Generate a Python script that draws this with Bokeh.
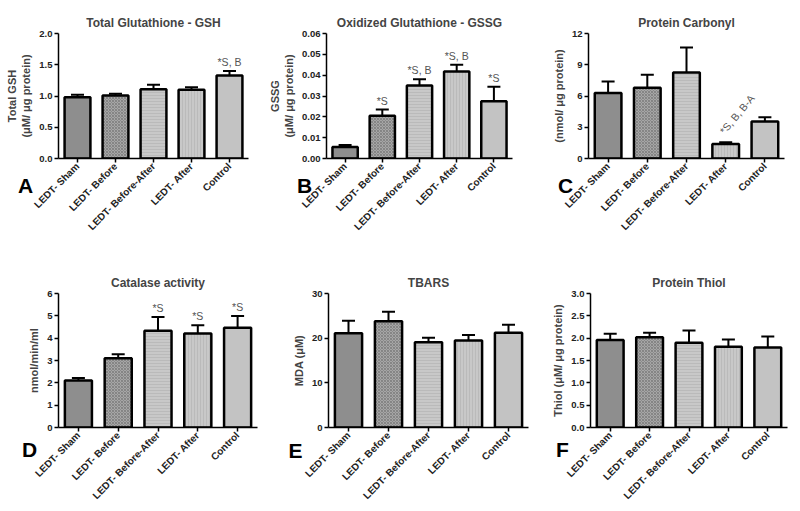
import math
from bokeh.plotting import figure
from bokeh.layouts import column, row
from bokeh.models import (ColumnDataSource, Range1d, FactorRange, Whisker, TeeHead,
                          Label, FixedTicker, NumeralTickFormatter)
from bokeh.core.properties import value
from bokeh.embed import file_html
from bokeh.resources import INLINE

FONT = "Liberation Sans"

categories = ["LEDT- Sham", "LEDT- Before", "LEDT- Before-After", "LEDT- After", "Control"]

gsh_mean = [0.98, 1.01, 1.11, 1.10, 1.33]
gsh_err = [0.04, 0.025, 0.07, 0.04, 0.07]
gsh_sig = ["", "", "", "", "*S, B"]

gssg_mean = [0.0055, 0.0205, 0.0350, 0.0418, 0.0275]
gssg_err = [0.0010, 0.0030, 0.0030, 0.0032, 0.0070]
gssg_sig = ["", "*S", "*S, B", "*S, B", "*S"]

carb_mean = [6.30, 6.80, 8.25, 1.40, 3.55]
carb_err = [1.10, 1.25, 2.40, 0.15, 0.42]
carb_sig = ["", "", "", "*S, B, B-A", ""]

cat_mean = [2.10, 3.10, 4.33, 4.21, 4.47]
cat_err = [0.12, 0.18, 0.62, 0.37, 0.52]
cat_sig = ["", "", "*S", "*S", "*S"]

tbars_mean = [21.1, 23.8, 19.1, 19.5, 21.2]
tbars_err = [2.8, 2.1, 1.0, 1.2, 1.8]
tbars_sig = ["", "", "", "", ""]

thiol_mean = [1.96, 2.02, 1.90, 1.81, 1.79]
thiol_err = [0.14, 0.10, 0.27, 0.16, 0.25]
thiol_sig = ["", "", "", "", ""]

fills = ["#8e8e8e", "#a6a6a6", "#c8c8c8", "#c8c8c8", "#c3c3c3"]
hatches = [" ", "diagonal_cross", "horizontal_line", "vertical_line", " "]
hatch_colors = ["#8e8e8e", "#7c7c7c", "#b6b6b6", "#b6b6b6", "#c3c3c3"]


def panel(title, ylabel, means, errs, sig, yend, ticks, fmt, width, height,
          bl, br, bt, bb, letter, lx, ly, sig_angle=0.0):
    src = ColumnDataSource(dict(
        cat=categories, top=means,
        up=[m + e for m, e in zip(means, errs)],
        sig=sig, fill=fills, hatch=hatches, hcol=hatch_colors))
    p = figure(x_range=FactorRange(*categories), y_range=Range1d(0, yend),
               width=width, height=height, output_backend="svg",
               toolbar_location=None, min_border_left=bl, min_border_right=br,
               min_border_top=bt, min_border_bottom=bb, title=title)
    p.outline_line_color = None
    p.xgrid.visible = False
    p.ygrid.visible = False
    p.title.text_font = FONT
    p.title.text_font_size = "12px"
    p.title.text_font_style = "bold"
    p.title.align = "center"
    p.title.offset = -13
    p.title.standoff = 8

    p.vbar(x="cat", top="top", width=0.68, source=src, fill_color="fill",
           line_color="black", line_width=2.5, hatch_pattern="hatch",
           hatch_color="hcol", hatch_scale=3, hatch_weight=0.8)
    w = Whisker(source=src, base="cat", lower="top", upper="up",
                line_width=2, line_color="black",
                upper_head=TeeHead(size=13, line_width=2, line_color="black"),
                lower_head=None)
    p.add_layout(w)
    if sig_angle:
        p.text(x="cat", y="up", text="sig", source=src, angle=sig_angle,
               text_align="left", text_baseline="middle", x_offset=-4, y_offset=-10,
               text_font=value(FONT), text_font_size="10.5px", text_color="#555555")
    else:
        p.text(x="cat", y="up", text="sig", source=src, text_align="center",
               text_baseline="bottom", y_offset=-3,
               text_font=value(FONT), text_font_size="10.5px", text_color="#555555")

    for ax in (p.xaxis[0], p.yaxis[0]):
        ax.axis_line_width = 1.5
        ax.axis_line_color = "black"
        ax.major_tick_line_width = 1.5
        ax.major_tick_out = 4
        ax.major_tick_in = 0
        ax.minor_tick_line_color = None
        ax.major_label_text_font = FONT
        ax.major_label_text_font_style = "bold"
        ax.major_label_text_color = "#222222"
        ax.major_label_standoff = 2
    p.xaxis.major_label_text_font_size = "10px"
    p.yaxis.major_label_text_font_size = "9.5px"
    p.xaxis.major_label_orientation = math.pi / 4
    p.yaxis.ticker = FixedTicker(ticks=ticks)
    p.yaxis.formatter = NumeralTickFormatter(format=fmt)
    p.yaxis.axis_label = ylabel
    p.yaxis.axis_label_text_font = FONT
    p.yaxis.axis_label_text_font_style = "bold"
    p.yaxis.axis_label_text_font_size = "11px"
    p.yaxis.axis_label_standoff = 4

    # panel letter, placed in the (otherwise empty) right side panel so it is not clipped
    p.add_layout(Label(x=lx, y=ly, x_units="screen", y_units="screen", text=letter,
                       text_font=FONT, text_font_size="21px", text_font_style="bold",
                       text_align="center", text_baseline="middle",
                       text_color="black"), "right")
    return p


pA = panel("Total Glutathione - GSH", "Total GSH\n(\u03bcM/ \u03bcg protein)",
           gsh_mean, gsh_err, gsh_sig, 2.0, [0, 0.5, 1.0, 1.5, 2.0], "0.0",
           265, 250, 58, 17, 33, 92, "A", -223, -27)
pB = panel("Oxidized Glutathione - GSSG", "GSSG\n(\u03bcM/ \u03bcg protein)",
           gssg_mean, gssg_err, gssg_sig, 0.06,
           [0, 0.01, 0.02, 0.03, 0.04, 0.05, 0.06], "0.00",
           265, 250, 58, 18, 33, 92, "B", -208, -27)
pC = panel("Protein Carbonyl", "(nmol/ \u03bcg protein)",
           carb_mean, carb_err, carb_sig, 12, [0, 3, 6, 9, 12], "0",
           270, 250, 58, 16, 29, 91, "C", -219, -27, sig_angle=math.radians(50))
pD = panel("Catalase activity", "nmol/min/ml",
           cat_mean, cat_err, cat_sig, 6, [0, 1, 2, 3, 4, 5, 6], "0",
           275, 259, 58, 18, 43, 81, "D", -228, -22)
pE = panel("TBARS", "MDA (\u03bcM)",
           tbars_mean, tbars_err, tbars_sig, 30, [0, 10, 20, 30], "0",
           270, 259, 53, 17, 43, 82, "E", -233, -23)
pF = panel("Protein Thiol", "Thiol (\u03bcM/ \u03bcg protein)",
           thiol_mean, thiol_err, thiol_sig, 3.0,
           [0, 0.5, 1.0, 1.5, 2.0, 2.5, 3.0], "0.0",
           255, 259, 45, 13, 43, 81, "F", -225, -22)

layout = column(row(pA, pB, pC), row(pD, pE, pF))

open("out.html", "w").write(file_html(layout, INLINE))
